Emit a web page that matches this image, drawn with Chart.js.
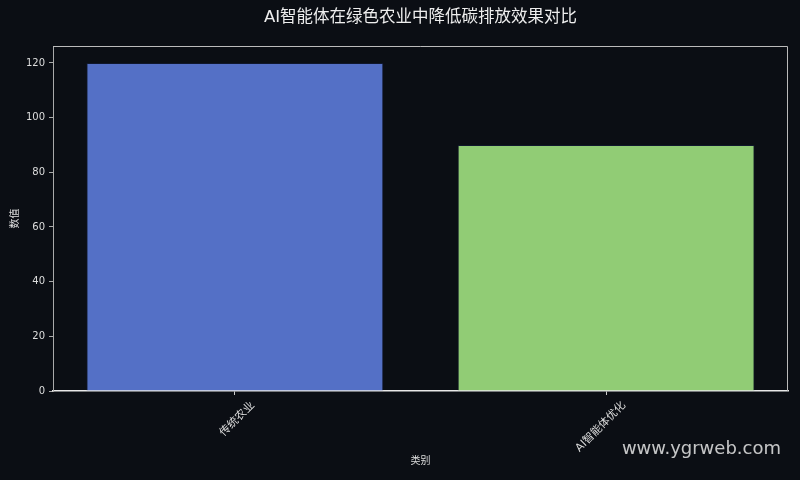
<!DOCTYPE html>
<html>
<head>
<meta charset="utf-8">
<script src="https://cdn.jsdelivr.net/npm/chart.js@4.4.0/dist/chart.umd.min.js"></script>
<style>
  html, body { margin: 0; padding: 0; background: #0b0e14; }
  #wrap { width: 800px; height: 480px; }
</style>
</head>
<body>
<div id="wrap"><canvas id="chart"></canvas></div>
<script>
  // Chart data
  const categories = ["传统农业", "AI智能体优化"];
  const values = [120, 90];
  const barColors = ["#5470c6", "#91cc75"];
  const yTicks = [0, 20, 40, 60, 80, 100, 120];

  const titleText = "AI智能体在绿色农业中降低碳排放效果对比";
  const watermark = "www.ygrweb.com";
  const fontFamily = "'DejaVu Sans', 'Noto Sans CJK SC', sans-serif";

  // Title, frame and watermark drawn on top of the library layout
  const decorPlugin = {
    id: "decor",
    beforeDraw(chart) {
      const c = chart.ctx;
      c.save();
      c.fillStyle = "#0b0e14";
      c.fillRect(0, 0, chart.width, chart.height);
      c.restore();
    },
    afterDraw(chart) {
      const c = chart.ctx;
      const a = chart.chartArea;
      c.save();
      // top and right border
      c.strokeStyle = "#bbbbbb";
      c.lineWidth = 1;
      c.beginPath();
      c.moveTo(a.left, a.top + 0.5);
      c.lineTo(a.right - 0.5, a.top + 0.5);
      c.lineTo(a.right - 0.5, a.bottom);
      c.stroke();
      // title
      c.fillStyle = "#eeeeee";
      c.font = "16.5px " + fontFamily;
      c.textAlign = "center";
      c.textBaseline = "middle";
      c.fillText(titleText, (a.left + a.right) / 2, 18);
      // watermark
      c.fillStyle = "rgba(230,230,230,0.85)";
      c.font = "18px " + fontFamily;
      c.textAlign = "right";
      c.textBaseline = "middle";
      c.fillText(watermark, 781, 449);
      c.restore();
    }
  };

  const ctx = document.getElementById("chart").getContext("2d");
  const chart = new Chart(ctx, {
    type: "bar",
    data: {
      datasets: [{
        data: values.map((v, i) => ({ x: i, y: v })),
        backgroundColor: barColors,
        borderColor: "rgba(20,30,60,0.6)",
        borderWidth: 1,
        categoryPercentage: 0.8,
        barPercentage: 1.0
      }]
    },
    plugins: [decorPlugin],
    options: {
      responsive: true,
      maintainAspectRatio: false,
      animation: false,
      layout: { padding: { left: 0, top: 46, right: 12, bottom: 0 } },
      plugins: {
        legend: { display: false },
        tooltip: { enabled: false }
      },
      scales: {
        x: {
          type: "linear",
          offset: false,
          min: -0.49,
          max: 1.49,
          afterBuildTicks: scale => { scale.ticks = categories.map((_, i) => ({ value: i })); },
          afterFit: scale => { scale.height = 89; },
          ticks: {
            color: "#dddddd",
            font: { size: 11, family: fontFamily },
            minRotation: 45,
            maxRotation: 45,
            labelOffset: 18,
            padding: 4,
            callback: v => categories[v]
          },
          grid: { offset: false, drawOnChartArea: false, drawTicks: true, tickLength: 4, color: "#cccccc" },
          border: { display: true, color: "#e8e8e8", width: 1.5 },
          title: {
            display: true,
            text: "类别",
            color: "#dddddd",
            font: { size: 10, family: fontFamily },
            padding: { top: 0, bottom: 13 }
          }
        },
        y: {
          min: 0,
          max: 126.2,
          afterBuildTicks: scale => { scale.ticks = yTicks.map(v => ({ value: v })); },
          afterFit: scale => { scale.width = 53; },
          ticks: {
            color: "#dddddd",
            font: { size: 10, family: fontFamily },
            padding: 4
          },
          grid: { drawOnChartArea: false, drawTicks: true, tickLength: 4, color: "#aaaaaa" },
          border: { display: true, color: "#aaaaaa", width: 1 },
          title: {
            display: true,
            text: "数值",
            color: "#dddddd",
            font: { size: 10, family: fontFamily },
            padding: { top: 9.5, bottom: 0 }
          }
        }
      }
    }
  });
</script>
</body>
</html>
